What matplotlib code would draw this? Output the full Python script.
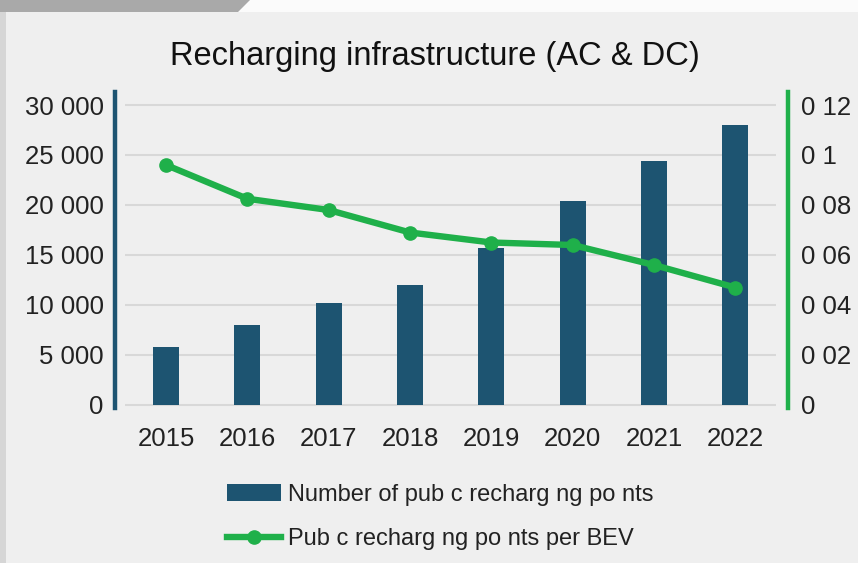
import matplotlib
matplotlib.use("Agg")
import matplotlib.pyplot as plt
from matplotlib.patches import Polygon, Rectangle
from matplotlib.lines import Line2D

years = ["2015", "2016", "2017", "2018", "2019", "2020", "2021", "2022"]
points = [5850, 8000, 10200, 12000, 15750, 20450, 24450, 28000]
per_bev = [0.096, 0.0825, 0.078, 0.069, 0.065, 0.064, 0.056, 0.047]
left_ticks = [0, 5000, 10000, 15000, 20000, 25000, 30000]
left_labels = ["0", "5 000", "10 000", "15 000", "20 000", "25 000", "30 000"]
right_ticks = [0, 0.02, 0.04, 0.06, 0.08, 0.10, 0.12]
right_labels = ["0", "0 02", "0 04", "0 06", "0 08", "0 1", "0 12"]
title = "Recharging infrastructure (AC & DC)"
bar_label = "Number of pub c recharg ng po nts"
line_label = "Pub c recharg ng po nts per BEV"

BAR = "#1d5471"
GREEN = "#1fb04a"
BG = "#efefef"
TXT = "#222222"
FONT = ["Liberation Sans", "DejaVu Sans"]
plt.rcParams["font.family"] = FONT

W, H = 858, 563
fig = plt.figure(figsize=(W / 100, H / 100), dpi=100, facecolor=BG)

# slide artefacts at top
fig.patches.append(Rectangle((0, 1 - 12 / H), 1, 12 / H, transform=fig.transFigure,
                             facecolor="#fbfbfb", edgecolor="none", zorder=0))
fig.patches.append(Polygon([(0, 1), (250 / W, 1), (238 / W, 1 - 12 / H), (0, 1 - 12 / H)],
                           closed=True, transform=fig.transFigure,
                           facecolor="#a9a9a9", edgecolor="none", zorder=0))
fig.patches.append(Rectangle((0, 0), 6 / W, 1 - 12 / H, transform=fig.transFigure,
                             facecolor="#d6d6d6", edgecolor="none", zorder=0))

left, right = 125.4, 775.9
top, bottom = 92, 408
ax = fig.add_axes([left / W, (H - bottom) / H, (right - left) / W, (bottom - top) / H])
ax.set_facecolor("none")
x = list(range(len(years)))
ax.bar(x, points, width=0.32, color=BAR, zorder=2)
ax.set_xlim(-0.5, 7.5)
ax.set_ylim(-300, 31300)
ax.set_yticks(left_ticks)
ax.set_yticklabels(left_labels)
ax.set_xticks(x)
ax.set_xticklabels(years)
ax.grid(axis="y", color="#d8d8d8", linewidth=1.5, zorder=0)
ax.set_axisbelow(True)
for s in ["top", "bottom", "right"]:
    ax.spines[s].set_visible(False)
ax.spines["left"].set_position(("outward", 7.5))
ax.spines["left"].set_color(BAR)
ax.spines["left"].set_linewidth(3.2)
ax.tick_params(axis="y", length=0, pad=8, labelsize=18.5, labelcolor=TXT)
ax.tick_params(axis="x", length=0, pad=14, labelsize=18.5, labelcolor=TXT)

ax2 = ax.twinx()
ax2.set_facecolor("none")
ax2.plot(x, per_bev, color=GREEN, linewidth=4.6, marker="o", markersize=9.5, zorder=3)
ax2.set_ylim(-300 / 250000, 31300 / 250000)
ax2.set_yticks(right_ticks)
ax2.set_yticklabels(right_labels)
for s in ["top", "bottom", "left"]:
    ax2.spines[s].set_visible(False)
ax2.spines["right"].set_position(("outward", 9))
ax2.spines["right"].set_color(GREEN)
ax2.spines["right"].set_linewidth(3.2)
ax2.tick_params(axis="y", length=0, pad=9, labelsize=18.5, labelcolor=TXT)

fig.text(435 / W, 1 - 56 / H, title, ha="center", va="center", fontsize=23.5, color="#111111")

handles = [Rectangle((0, 0), 1, 1, facecolor=BAR, edgecolor="none"),
           Line2D([], [], color=GREEN, linewidth=4.6, marker="o", markersize=9.5)]
fig.legend(handles, [bar_label, line_label], loc="center left",
           bbox_to_anchor=(227 / W, 1 - 517 / H), frameon=False, fontsize=17,
           borderpad=0, borderaxespad=0, handlelength=2.3, handletextpad=0.3,
           labelspacing=0.95, labelcolor=TXT)

fig.savefig("out.png", dpi=100, facecolor=BG)
